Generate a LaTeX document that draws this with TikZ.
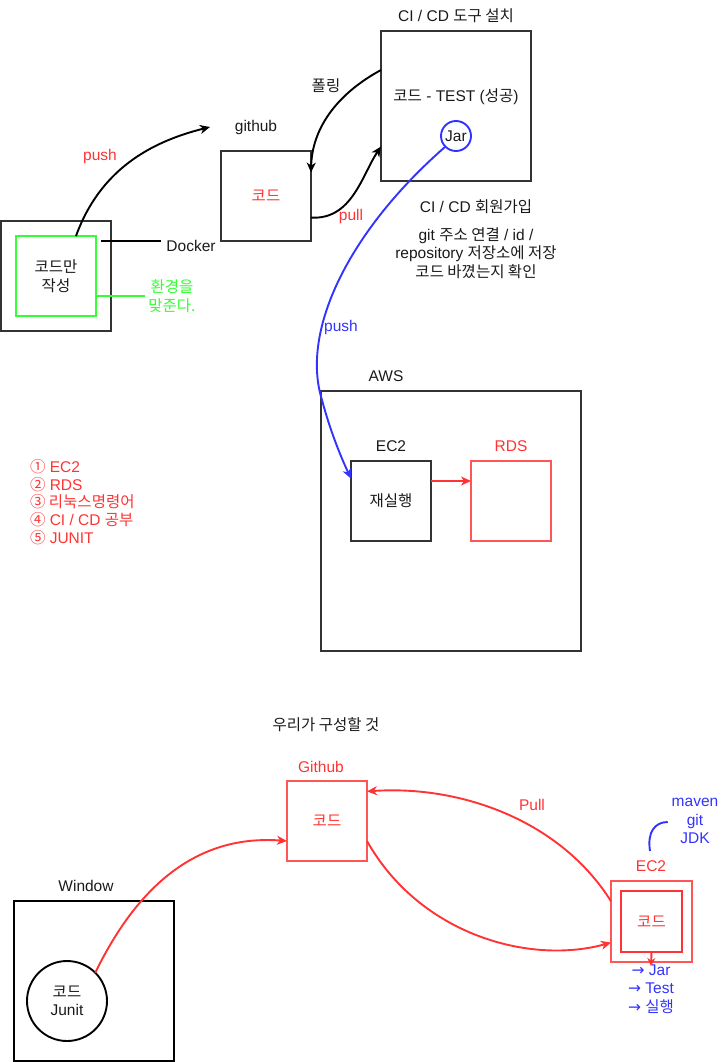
\documentclass[tikz,border=0pt]{standalone}
\usepackage{fontspec}
\setmainfont{Liberation Sans}
\newfontfamily\ko{Noto Sans CJK KR}
\newfontfamily\dv{DejaVu Sans}
\usetikzlibrary{arrows.meta,calc}
\definecolor{tred}{HTML}{FF3333}
\definecolor{bred}{HTML}{FF5555}
\definecolor{tgreen}{HTML}{33FF33}
\definecolor{tblue}{HTML}{3333FF}
\definecolor{edge}{HTML}{333333}
\definecolor{ink}{HTML}{1A1A1A}
\begin{document}
\begin{tikzpicture}[x=1pt,y=-1pt,
  every node/.style={font=\fontsize{15.5}{18.5}\selectfont, text=ink, inner sep=0pt, outer sep=0pt},
  box/.style={draw=edge, line width=1.9pt, rectangle},
  rbox/.style={draw=bred, line width=1.9pt, rectangle},
  lbl/.style={align=center},
  conn/.style={line width=1.9pt, -{Stealth[length=10pt,width=9pt,inset=3pt]}},
  plain/.style={line width=1.9pt}
]
\useasboundingbox (0,0) rectangle (722,1062);

% ---------- top-left: Docker ----------
\node[box, minimum width=110pt, minimum height=110pt] (dockOuter) at (56,276) {};
\node[draw=tgreen, line width=1.9pt, minimum width=80pt, minimum height=80pt, lbl] (dockInner) at (56,276) {\ko 코드만\\\ko 작성};
\node[lbl] (docker) at (191,246) {Docker};
\coordinate (dk) at (101,241);
\draw[plain, draw=black] (dk) -- ($(dk -| docker.west)+(-5,0)$);
\node[lbl, text=tgreen] (env) at (172,296) {\ko 환경을\\\ko 맞준다.};
\draw[plain, draw=tgreen] (dockInner.east |- env.west) -- ($(env.west)+(-3,0)$);

% push to github
\coordinate (pushEnd) at (210,127);
\draw[conn, draw=black] ($(dockInner.north)+(20,0)$) .. controls (100,170) and (150,142) .. (pushEnd);
\node[text=tred] (pushLbl) at (100,156) {push};

% ---------- github ----------
\node (ghLbl) at (256,127) {github};
\node[box, minimum width=90pt, minimum height=90pt, text=tred] (gh) at (266,196) {\ko 코드};

% ---------- CI/CD ----------
\node (ciLbl) at (456,16) {CI / CD {\ko 도구 설치}};
\node[box, minimum width=150pt, minimum height=150pt] (ci) at (456,106) {};
\node (ciText) at (456,97) {{\ko 코드} - TEST ({\ko 성공})};
\node[draw=tblue, line width=1.9pt, circle, minimum size=30pt] (jar) at (456,136) {Jar};

\node (pollLbl) at (326,86) {\ko 폴링};
\draw[conn, draw=black] ($(ci.north west)!0.26!(ci.south west)$) .. controls (335,95) and (312,130) .. ($(gh.north east)!0.24!(gh.south east)$);
\draw[conn, draw=black] ($(gh.north east)!0.74!(gh.south east)$) .. controls (352,220) and (362,175) .. ($(ci.north west)!0.77!(ci.south west)$);
\node[text=tred] (pullLbl) at (351,216) {pull};

\node (joinLbl) at (476,207) {CI / CD {\ko 회원가입}};
\node[lbl] (gitLbl) at (476,253) {git {\ko 주소 연결} / id /\\repository {\ko 저장소에 저장}\\{\ko 코드 바꼈는지 확인}};

% ---------- AWS ----------
\node (awsLbl) at (386,376) {AWS};
\node[box, minimum width=260pt, minimum height=260pt] (aws) at (451,521) {};
\node (ec2Lbl) at (391,446) {EC2};
\node[box, minimum width=80pt, minimum height=80pt] (ec2) at (391,501) {\ko 재실행};
\node[text=tred] (rdsLbl) at (511,446) {RDS};
\node[rbox, minimum width=80pt, minimum height=80pt] (rds) at (511,501) {};
\draw[conn, draw=tred] ($(ec2.north east)!0.25!(ec2.south east)$) -- ($(rds.north west)!0.25!(rds.south west)$);

% blue push from Jar to EC2
\draw[conn, draw=tblue] (jar.south west) .. controls (350,230) and (300,330) .. (322,400) .. controls (330,430) and (340,455) .. ($(ec2.north west)!0.22!(ec2.south west)$);
\node[text=tblue] (pushBlue) at (341,327) {push};

% ---------- study list ----------
\node[anchor=west, align=left, text=tred, font=\fontsize{15.5}{17.8}\selectfont] (todo) at (30,502)
 {{\ko ①} EC2\\{\ko ②} RDS\\{\ko ③ 리눅스명령어}\\{\ko ④} CI / CD {\ko 공부}\\{\ko ⑤} JUNIT};

% ---------- bottom ----------
\node (title) at (326,725) {\ko 우리가 구성할 것};

\node[text=tred] (ghbLbl) at (321,767) {Github};
\node[rbox, minimum width=80pt, minimum height=80pt, text=tred] (ghb) at (327,821) {\ko 코드};

\node (winLbl) at (86,886) {Window};
\node[box, draw=black, minimum width=160pt, minimum height=160pt] (win) at (94,981) {};
\node[draw=black, line width=1.9pt, circle, minimum size=80pt, lbl] (junit) at (67,1001) {{\ko 코드}\\Junit};

\draw[conn, draw=tred] (junit.north east) .. controls (150,860) and (220,836) .. ($(ghb.north west)!0.75!(ghb.south west)$);

\node[text=tred] (ec2bLbl) at (651,866) {EC2};
\node[rbox, minimum width=81pt, minimum height=81pt] (ec2b) at (651.5,921.5) {};
\node[draw=tred, line width=1.9pt, minimum width=61pt, minimum height=61pt, text=tred] (ec2in) at (651.5,921.5) {\ko 코드};

\draw[conn, draw=tred] ($(ec2b.north west)!0.25!(ec2b.south west)$) .. controls (560,820) and (460,785) .. ($(ghb.north east)!0.13!(ghb.south east)$);
\node[text=tred] (pullB) at (532,805) {Pull};
\draw[conn, draw=tred] ($(ghb.north east)!0.75!(ghb.south east)$) .. controls (420,935) and (530,965) .. ($(ec2b.north west)!0.76!(ec2b.south west)$);

\node[text=tblue, lbl] (mvn) at (695,821) {maven\\git\\JDK};
\coordinate (mvnStart) at (650,851);
\draw[plain, draw=tblue] (mvnStart) .. controls (647,832) and (655,822) .. ($(mvn.west)+(-4,1)$);

\coordinate (jarTip) at (651,966);
\draw[line width=1.9pt, draw=tred, -{Stealth[length=8pt,width=8pt,inset=2.5pt]}] (ec2in.south) -- (jarTip);
\node[text=tblue, lbl] (steps) at (651,989) {{\dv →} Jar\\{\dv →} Test\\{\dv →} {\ko 실행}};
\end{tikzpicture}
\end{document}
